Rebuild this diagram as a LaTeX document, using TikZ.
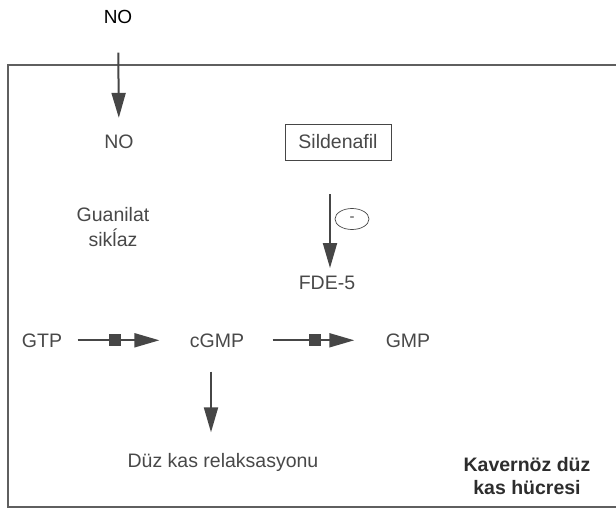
\documentclass[tikz,border=0pt]{standalone}
\usepackage{xcolor}
\usepackage{fontspec}
\setmainfont{Liberation Sans}
\usepackage{tikz}
\usetikzlibrary{shapes.geometric, arrows.meta, positioning, calc}
\definecolor{mygray}{RGB}{70,70,70}
\definecolor{mytext}{RGB}{72,72,72}
\definecolor{mydark}{RGB}{45,45,45}
\definecolor{myframe}{RGB}{95,95,95}
\tikzset{
  lbl/.style={font=\fontsize{19.5}{25}\selectfont, text=mytext, align=center},
  boldlbl/.style={font=\fontsize{19.5}{23}\selectfont\bfseries, text=mydark, align=center},
  drugbox/.style={rectangle, draw=mygray, line width=0.9pt,
    minimum width=106pt, minimum height=36pt,
    font=\fontsize{19.5}{25}\selectfont, text=mytext},
  inhib/.style={ellipse, draw=mygray, line width=0.7pt,
    minimum width=34pt, minimum height=21pt, inner sep=0pt,
    font=\fontsize{15}{15}\selectfont, text=mytext},
  sq/.style={rectangle, fill=mygray, minimum width=12pt, minimum height=12pt, inner sep=0pt},
  arrow/.style={-{Triangle[length=25pt,width=14pt]}, line width=2pt, color=mygray},
  frame/.style={line width=1.4pt, color=myframe}
}
\begin{document}
\begin{tikzpicture}[x=1pt, y=-1pt]
\useasboundingbox (0,0) rectangle (616,509);
% cell border
\draw[frame] (616,65) -- (8,65) -- (8,507) -- (616,507);

\node[font=\fontsize{19}{22}\selectfont, anchor=base] (notop) at (118,23) {NO};
\node[lbl, anchor=base] (noin) at (119,148) {NO};
\node[drugbox] (sild) at (338,142) {Sildenafil};
\node[lbl] (gc) at (113,227) {Guanilat\\sikĺaz};
\node[lbl, anchor=base] (fde) at (327,289) {FDE-5};
\node[inhib] (minus) at (352,219) {-};
\node[lbl, anchor=base] (gtp) at (42,347) {GTP};
\node[lbl, anchor=base] (cgmp) at (217,347) {cGMP};
\node[lbl, anchor=base] (gmp) at (408,347) {GMP};
\node[lbl, anchor=base] (relax) at (223,467) {Düz kas relaksasyonu};
\node[boldlbl] (cell) at (527,476) {Kavernöz düz\\kas hücresi};

\draw[arrow, shorten <=26pt, shorten >=13pt] (notop) -- (noin);
\draw[arrow, shorten <=34pt, shorten >=4pt] ([xshift=-8pt]sild.south) -- ([xshift=3pt]fde.north);
\draw[arrow, shorten <=12pt, shorten >=27pt] (gtp) -- node[sq, pos=0.41]{} (cgmp);
\draw[arrow, shorten <=25pt, shorten >=28pt] (cgmp) -- node[sq, pos=0.5]{} (gmp);
\draw[arrow, shorten <=21pt, shorten >=17pt] ([xshift=-6pt]cgmp.south) -- ([xshift=-12pt]relax.north);
\end{tikzpicture}
\end{document}
